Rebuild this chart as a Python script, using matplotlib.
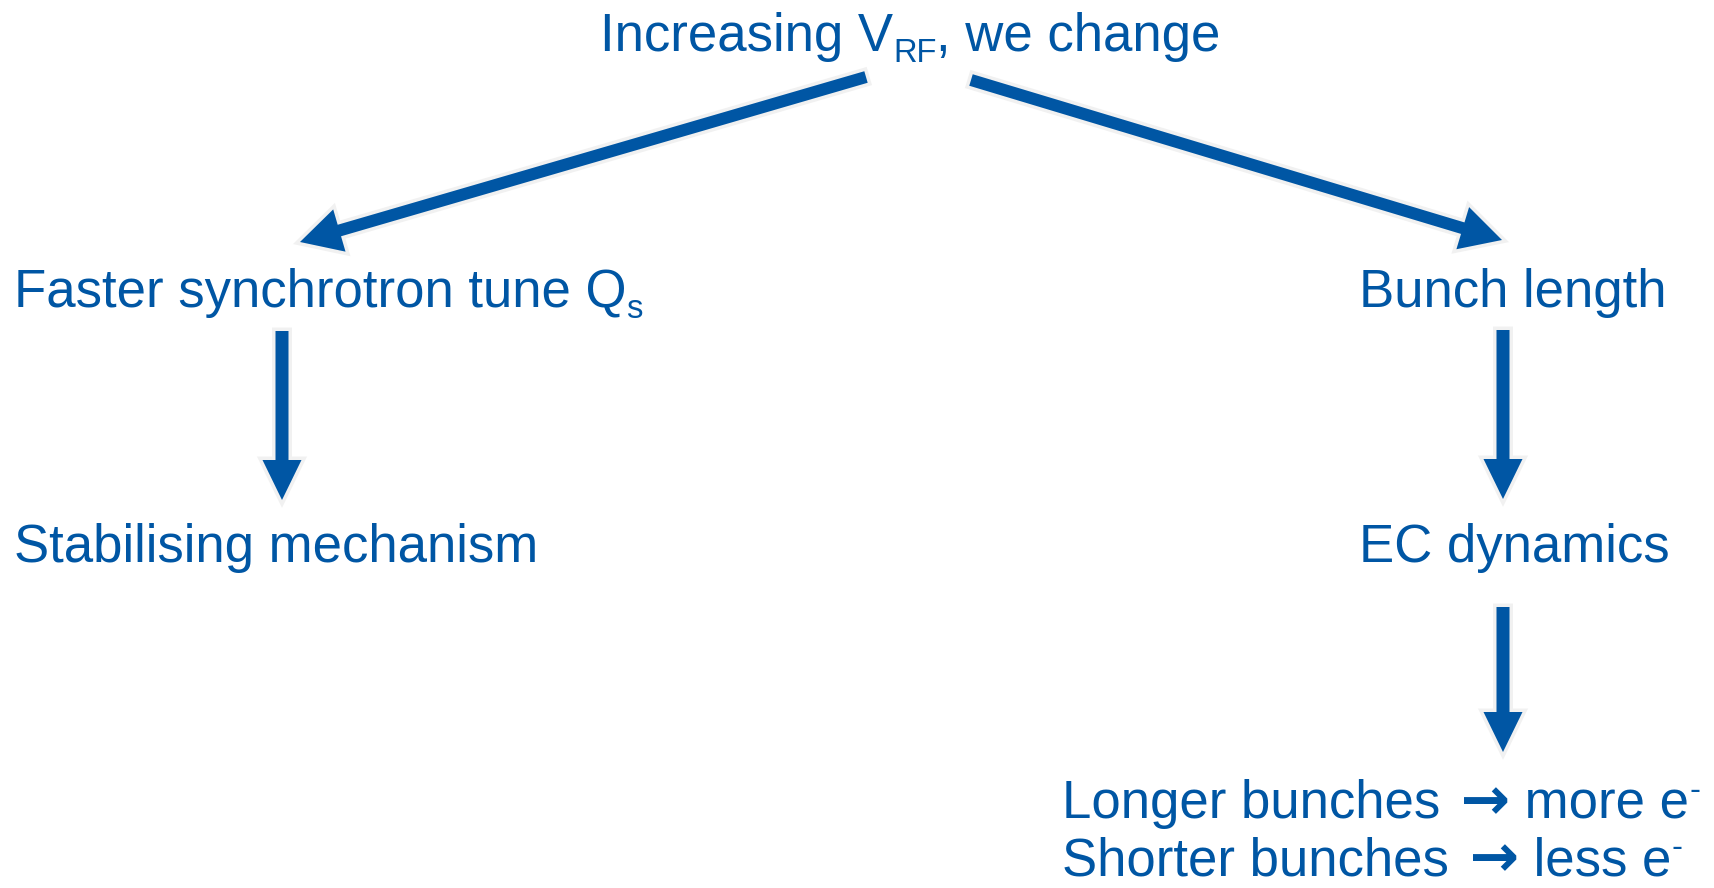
import matplotlib
matplotlib.use("Agg")
import matplotlib.pyplot as plt
from matplotlib import transforms
from matplotlib.patches import FancyArrow
import matplotlib.patheffects as pe

# ---------------- content ----------------
# each label is a list of (text, kind) pieces: 0 normal, -1 subscript, +1 superscript, 2 arrow glyph
node_names = ["root", "qs", "stab", "bunch", "ec", "longer", "shorter"]
node_labels = {
    "root":    [("Increasing V", 0), ("RF", -1), (", we change", 0)],
    "qs":      [("Faster synchrotron tune Q", 0), ("s", -1)],
    "stab":    [("Stabilising mechanism", 0)],
    "bunch":   [("Bunch length", 0)],
    "ec":      [("EC dynamics", 0)],
    "longer":  [("Longer bunches", 0), (" \u2192", 2), (" more e", 0), ("-", 1)],
    "shorter": [("Shorter bunches", 0), (" \u2192", 2), (" less e", 0), ("-", 1)],
}
edges = [("root", "qs"), ("root", "bunch"), ("qs", "stab"),
         ("bunch", "ec"), ("ec", "longer")]

# ---------------- layout (pixel space, y downwards) ----------------
W, H, DPI = 1714, 888, 100
node_pos = {            # left x, baseline y
    "root":    (600, 51),
    "qs":      (14, 307),
    "stab":    (14, 562),
    "bunch":   (1359, 307),
    "ec":      (1359, 562),
    "longer":  (1062, 818),
    "shorter": (1062, 875),
}
edge_geom = {           # tail -> tip
    ("root", "qs"):    ((866, 77), (300, 242)),
    ("root", "bunch"): ((971, 80), (1502, 240)),
    ("qs", "stab"):    ((282, 331), (282, 500)),
    ("bunch", "ec"):   ((1503, 330), (1503, 499)),
    ("ec", "longer"):  ((1503, 607), (1503, 752)),
}
BLUE = "#0056A4"
FONT = ["Liberation Sans", "DejaVu Sans"]
FS = 38.0

fig = plt.figure(figsize=(W / DPI, H / DPI), dpi=DPI)
ax = fig.add_axes([0, 0, 1, 1])
ax.set_xlim(0, W)
ax.set_ylim(H, 0)
ax.axis("off")

glow = [pe.Stroke(linewidth=5, foreground="#f1f1f1"), pe.Normal()]
for e in edges:
    (x0, y0), (x1, y1) = edge_geom[e]
    vertical = abs(x1 - x0) < 1
    ar = FancyArrow(x0, y0, x1 - x0, y1 - y0,
                    width=13 if vertical else 12,
                    head_width=39 if vertical else 44,
                    head_length=40 if vertical else 41,
                    length_includes_head=True,
                    color=BLUE, lw=0, zorder=3)
    ar.set_path_effects(glow)
    ax.add_patch(ar)

renderer = fig.canvas.get_renderer()


def draw_rich(x, y, pieces):
    trans = ax.transData
    for s, kind in pieces:
        fam, weight = FONT, "normal"
        if kind == 0:
            fs, dy = FS, 0
        elif kind == -1:
            fs, dy = FS * 0.62, -11
        elif kind == 1:
            fs, dy = FS * 0.62, 18
        else:
            fs, dy = FS * 1.12, -1
            fam, weight = ["DejaVu Sans"], "bold"
        t = ax.text(x, y, s, fontsize=fs, color=BLUE, family=fam, weight=weight,
                    ha="left", va="baseline",
                    transform=transforms.offset_copy(trans, fig=fig, x=0, y=dy, units="dots"),
                    zorder=4)
        t.draw(renderer)
        ex = t.get_window_extent(renderer)
        trans = transforms.offset_copy(trans, fig=fig, x=ex.width, y=0, units="dots")


for n in node_names:
    draw_rich(*node_pos[n], node_labels[n])

fig.savefig("out.png", dpi=DPI, facecolor="white")
